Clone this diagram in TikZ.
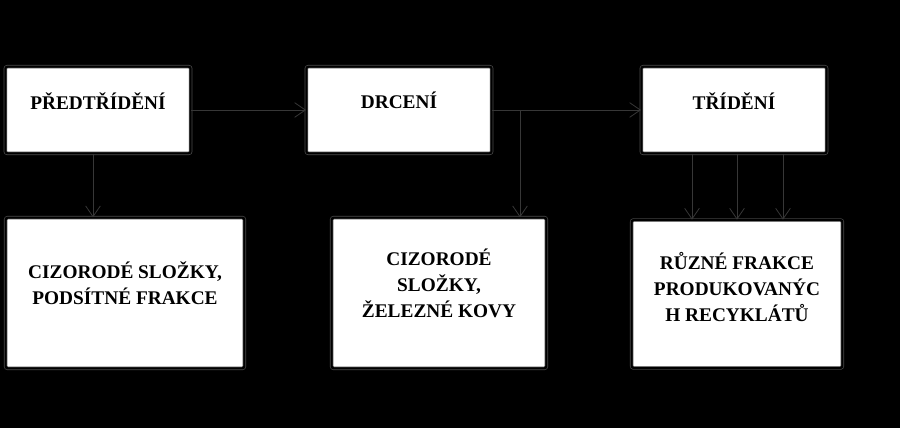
\documentclass[tikz,border=0pt]{standalone}
\usepackage{fontspec}
\setmainfont{Liberation Serif}
\usetikzlibrary{arrows.meta,calc,positioning}
\definecolor{edgegray}{RGB}{75,75,75}
\definecolor{arrowgray}{RGB}{55,55,55}
\tikzset{
    box/.style = {draw=edgegray, line width=0.5pt, double=black,
        double distance=1.6pt, fill=white, rounded corners=1.5pt,
        inner sep=0pt},
    lbl/.style = {font=\bfseries\fontsize{14.5pt}{19.5pt}\selectfont,
        align=center, inner sep=0pt},
    txt/.style = {label={[lbl,yshift=7pt]center:#1}},
    arrow/.style = {draw=arrowgray, line width=0.6pt,
        -{Straight Barb[length=8pt,width=11pt,line width=0.6pt]}}
}
\begin{document}
\begin{tikzpicture}[x=0.75pt,y=-0.75pt]
    \fill[black] (0,0) rectangle (900,428);
    \useasboundingbox (0,0) rectangle (900,428);
    % upper row
    \node[box, minimum width=139pt, minimum height=65pt,
        txt={PŘEDTŘÍDĚNÍ}] (b1) at (98,110) {};
    \node[box, minimum width=139pt, minimum height=65pt,
        txt={DRCENÍ}] (b2) at (399,110) {};
    \node[box, minimum width=139pt, minimum height=65pt,
        txt={TŘÍDĚNÍ}] (b3) at (734,110) {};
    % lower row
    \node[box, minimum width=179pt, minimum height=113pt,
        txt={CIZORODÉ SLOŽKY,\\PODSÍTNÉ FRAKCE}] (b4) at (125,293) {};
    \node[box, minimum width=161pt, minimum height=113pt,
        label={[lbl,yshift=7.5pt]center:CIZORODÉ\\SLOŽKY,\\ŽELEZNÉ KOVY}] (b5) at (439,293) {};
    \node[box, minimum width=158pt, minimum height=111pt,
        label={[lbl,yshift=5.5pt]center:RŮZNÉ FRAKCE\\PRODUKOVANÝC\\H RECYKLÁTŮ}] (b6) at (737,294) {};
    \coordinate (j) at (520,110);
    % connectors
    \draw[arrow] (b1.east) -- (b2.west);
    \draw[arrow] (b2.east) -- (b3.west);
    \draw[arrow] (j) -- (j |- b5.north);
    \draw[arrow] ([xshift=-3.75pt]b1.south) -- ([xshift=-3.75pt]b1.south |- b4.north);
    \foreach \dx in {-31.5,2.25,36.75}
        \draw[arrow] ([xshift=\dx pt]b3.south) -- ([xshift=\dx pt]b3.south |- b6.north);
\end{tikzpicture}
\end{document}
